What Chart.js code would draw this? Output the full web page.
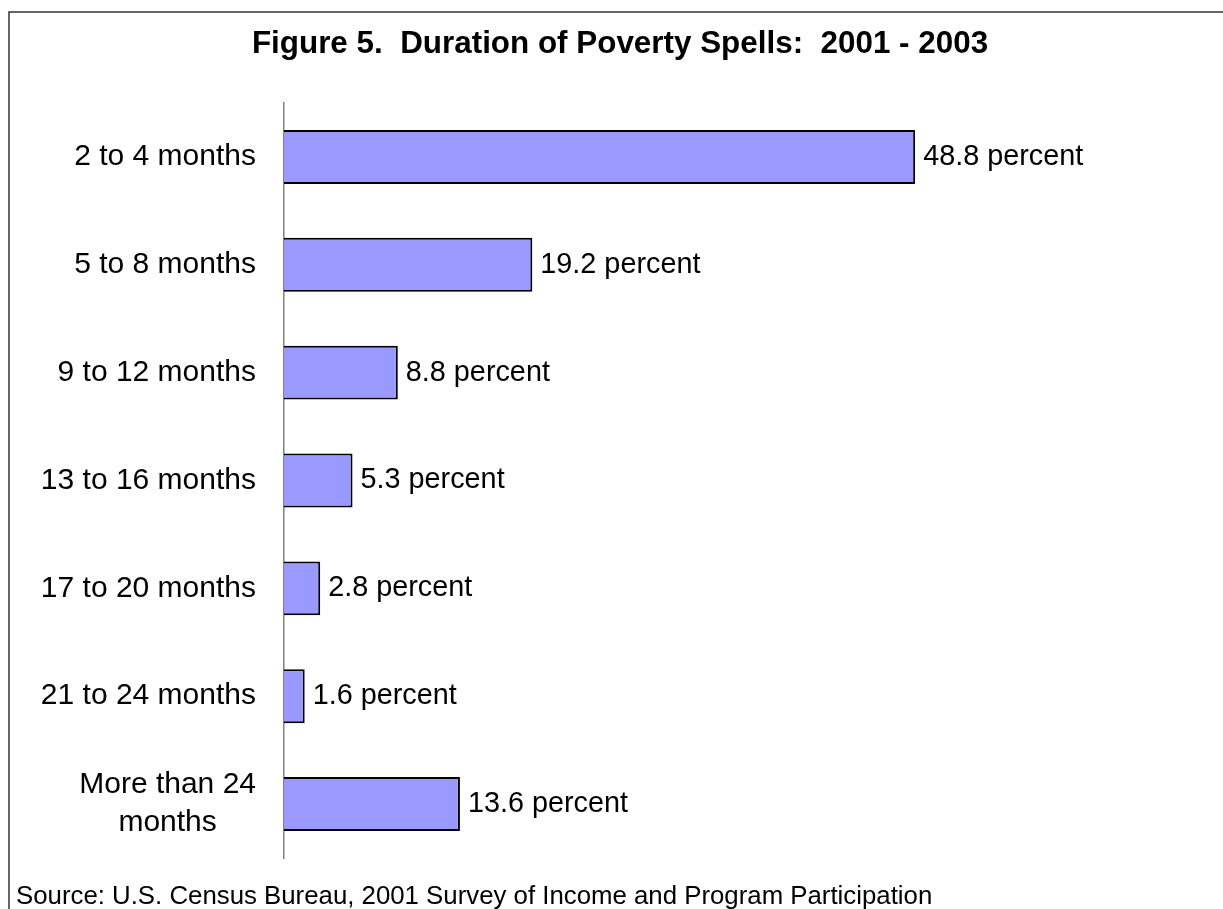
<!DOCTYPE html>
<html>
<head>
<meta charset="utf-8">
<script src="https://cdn.jsdelivr.net/npm/chart.js@4.4.1/dist/chart.umd.min.js"></script>
<style>
  html, body { margin: 0; padding: 0; background: #ffffff; }
  #wrap { width: 1223px; height: 909px; position: relative; }
</style>
</head>
<body>
<div id="wrap"><canvas id="c" width="1223" height="909"></canvas></div>
<script>
const titleText = 'Figure 5.  Duration of Poverty Spells:  2001 - 2003';
const sourceText = 'Source: U.S. Census Bureau, 2001 Survey of Income and Program Participation';
const categories = [
  ['2 to 4 months'],
  ['5 to 8 months'],
  ['9 to 12 months'],
  ['13 to 16 months'],
  ['17 to 20 months'],
  ['21 to 24 months'],
  ['More than 24', 'months']
];
const values = [48.8, 19.2, 8.8, 5.3, 2.8, 1.6, 13.6];
const valueSuffix = ' percent';

const FONT = "'Liberation Sans', Arial, Helvetica, sans-serif";

const decorPlugin = {
  id: 'decor',
  beforeDraw(chart) {
    const ctx = chart.ctx;
    ctx.save();
    ctx.fillStyle = '#ffffff';
    ctx.fillRect(0, 0, chart.width, chart.height);
    ctx.strokeStyle = '#333333';
    ctx.lineWidth = 1.5;
    ctx.beginPath();
    ctx.moveTo(9, chart.height);
    ctx.lineTo(9, 12);
    ctx.lineTo(chart.width, 12);
    ctx.stroke();
    ctx.restore();
  },
  afterDraw(chart) {
    const ctx = chart.ctx;
    const yScale = chart.scales.y;
    const meta = chart.getDatasetMeta(0);
    ctx.save();
    ctx.fillStyle = '#000000';

    // title
    ctx.font = 'bold 31.4px ' + FONT;
    ctx.textAlign = 'center';
    ctx.textBaseline = 'alphabetic';
    ctx.fillText(titleText, 620, 53);

    // category labels
    ctx.font = '30px ' + FONT;
    ctx.textBaseline = 'middle';
    const lineH = 38;
    const rightX = 256;
    categories.forEach((lines, i) => {
      const cy = yScale.getPixelForValue(i);
      const maxW = Math.max(...lines.map(l => ctx.measureText(l).width));
      const startY = cy - (lines.length - 1) * lineH / 2;
      lines.forEach((l, j) => {
        if (lines.length > 1) {
          ctx.textAlign = 'center';
          ctx.fillText(l, rightX - maxW / 2, startY + j * lineH);
        } else {
          ctx.textAlign = 'right';
          ctx.fillText(l, rightX, startY + j * lineH);
        }
      });
    });

    // value labels
    ctx.font = '28.8px ' + FONT;
    ctx.textAlign = 'left';
    ctx.textBaseline = 'middle';
    meta.data.forEach((bar, i) => {
      ctx.fillText(values[i].toFixed(1) + valueSuffix, bar.x + 8, bar.y);
    });

    // source
    ctx.font = '25.8px ' + FONT;
    ctx.textAlign = 'left';
    ctx.textBaseline = 'alphabetic';
    ctx.fillText(sourceText, 16, 904);
    ctx.restore();
  }
};

new Chart(document.getElementById('c'), {
  type: 'bar',
  data: {
    labels: categories,
    datasets: [{
      data: values,
      backgroundColor: '#9999FF',
      borderColor: '#000000',
      borderWidth: 2,
      categoryPercentage: 0.5,
      barPercentage: 1.0
    }]
  },
  options: {
    indexAxis: 'y',
    responsive: false,
    devicePixelRatio: 1,
    animation: false,
    layout: { padding: { left: 284, top: 103, bottom: 51, right: 163 } },
    plugins: {
      legend: { display: false },
      title: { display: false },
      tooltip: { enabled: false }
    },
    scales: {
      x: { display: false, min: 0, max: 60 },
      y: {
        display: true,
        grid: { display: false, drawTicks: false },
        ticks: { display: false },
        border: { display: true, color: '#808080', width: 1.5 }
      }
    }
  },
  plugins: [decorPlugin]
});
</script>
</body>
</html>
